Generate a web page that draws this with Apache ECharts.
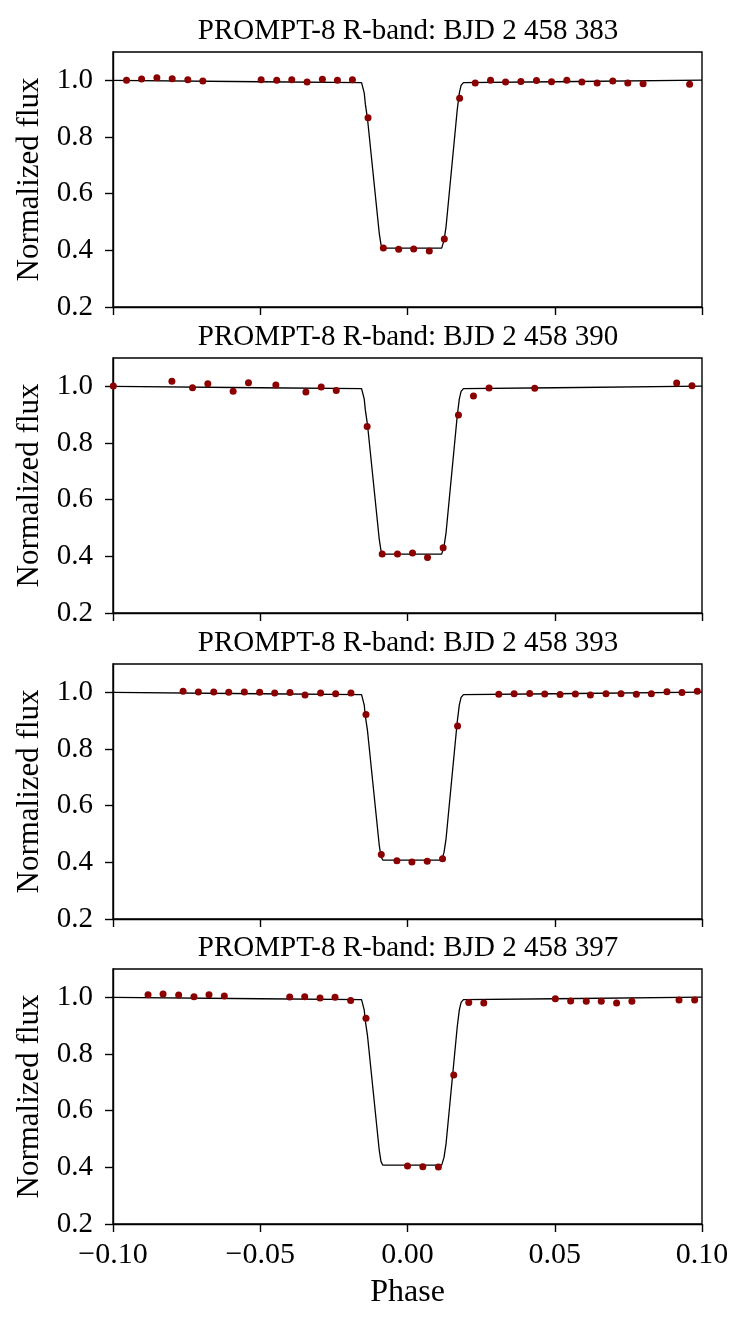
<!DOCTYPE html>
<html>
<head>
<meta charset="utf-8">
<script src="https://cdn.jsdelivr.net/npm/echarts@6/dist/echarts.min.js"></script>
<style>
html,body{margin:0;padding:0;background:#fff;}
#chart{width:747px;height:1326px;}
</style>
</head>
<body>
<div id="chart"></div>
<script>
const titles = [
  'PROMPT-8 R-band: BJD 2 458 383',
  'PROMPT-8 R-band: BJD 2 458 390',
  'PROMPT-8 R-band: BJD 2 458 393',
  'PROMPT-8 R-band: BJD 2 458 397'
];
const xTicks = [-0.1, -0.05, 0, 0.05, 0.1];
const yTicks = [0.2, 0.4, 0.6, 0.8, 1.0];

const phase383 = [-0.0954,-0.0903,-0.0851,-0.0799,-0.0746,-0.0695,-0.0497,-0.0444,-0.0393,-0.0341,-0.0289,-0.0238,-0.0187,-0.0134,-0.0082,-0.0030,0.0021,0.0074,0.0125,0.0177,0.0230,0.0282,0.0333,0.0385,0.0438,0.0489,0.0541,0.0592,0.0644,0.0697,0.0748,0.0800,0.0958];
const flux383  = [1.000,1.005,1.009,1.006,1.002,0.998,1.002,1.000,1.002,0.994,1.004,1.000,1.002,0.868,0.408,0.404,0.405,0.398,0.440,0.937,0.991,1.000,0.994,0.996,0.999,0.995,1.000,0.994,0.991,0.998,0.991,0.988,0.986];

const phase390 = [-0.0999,-0.0800,-0.0730,-0.0678,-0.0592,-0.0540,-0.0447,-0.0345,-0.0293,-0.0242,-0.0137,-0.0086,-0.0034,0.0017,0.0068,0.0121,0.0173,0.0224,0.0277,0.0432,0.0914,0.0966];
const flux390  = [1.001,1.018,0.995,1.009,0.983,1.013,1.005,0.980,0.998,0.985,0.858,0.408,0.408,0.412,0.396,0.430,0.899,0.966,0.994,0.993,1.012,1.002];

const phase393 = [-0.0762,-0.0710,-0.0658,-0.0607,-0.0554,-0.0502,-0.0451,-0.0399,-0.0348,-0.0295,-0.0244,-0.0192,-0.0141,-0.0089,-0.0036,0.0015,0.0067,0.0119,0.0170,0.0310,0.0362,0.0415,0.0466,0.0518,0.0570,0.0621,0.0674,0.0725,0.0777,0.0828,0.0881,0.0932,0.0984];
const flux393  = [1.004,1.001,1.001,1.000,1.001,1.000,0.998,0.999,0.991,0.998,0.995,0.998,0.922,0.428,0.406,0.401,0.404,0.413,0.881,0.993,0.995,0.996,0.994,0.992,0.994,0.991,0.995,0.995,0.993,0.995,1.002,0.999,1.004];

const phase397 = [-0.0881,-0.0830,-0.0777,-0.0725,-0.0674,-0.0622,-0.0400,-0.0349,-0.0297,-0.0246,-0.0193,-0.0141,0.0000,0.0052,0.0105,0.0157,0.0208,0.0259,0.0502,0.0554,0.0607,0.0658,0.0710,0.0762,0.0922,0.0975];
const flux397  = [1.009,1.012,1.008,1.002,1.009,1.005,1.001,1.002,0.998,1.000,0.989,0.926,0.405,0.402,0.401,0.726,0.982,0.980,0.995,0.987,0.986,0.986,0.980,0.986,0.991,0.991];

const modelPhase = [-0.1,-0.05,-0.0156,-0.0150,-0.0147,-0.0143,-0.0136,-0.0096,-0.0090,-0.0084,0.0116,0.0124,0.0131,0.0169,0.0176,0.0182,0.0190,0.05,0.1];
const modelFlux  = [1.000,0.995,0.992,0.986,0.956,0.915,0.866,0.461,0.420,0.408,0.408,0.435,0.484,0.897,0.956,0.982,0.992,0.995,1.001];

const phases = [phase383, phase390, phase393, phase397];
const fluxes = [flux383, flux390, flux393, flux397];

const FONT = 'Liberation Serif';
const tops = [52, 358, 664, 969];
const plotH = 255, plotL = 113, plotW = 589;

const zip = (a, b) => a.map((v, i) => [v, b[i]]);
const fmtX = v => (v < -1e-9 ? '\u2212' : '') + Math.abs(v).toFixed(2);

const option = {
  animation: false,
  backgroundColor: '#fff',
  title: titles.map((t, i) => ({
    text: t, left: 408, top: tops[i] - 35, textAlign: 'center', padding: 0,
    textStyle: {fontFamily: FONT, fontSize: 29, fontWeight: 'normal', color: '#000'}
  })),
  grid: tops.map(t => ({
    left: plotL, top: t, width: plotW, height: plotH,
    show: true, borderColor: '#000', borderWidth: 1.4, backgroundColor: 'transparent'
  })),
  xAxis: tops.map((t, i) => ({
    type: 'value', gridIndex: i, min: -0.1, max: 0.1, interval: 0.05,
    splitLine: {show: false},
    axisLine: {show: true, onZero: false, lineStyle: {color: '#000', width: 1.4}},
    axisTick: {show: true, inside: false, length: 8, lineStyle: {color: '#000', width: 1.4}},
    axisLabel: {show: i === 3, margin: 16, color: '#000', fontFamily: FONT, fontSize: 30, formatter: fmtX},
    name: i === 3 ? 'Phase' : '', nameLocation: 'middle', nameGap: 53,
    nameTextStyle: {fontFamily: FONT, fontSize: 32, color: '#000'}
  })),
  yAxis: tops.map((t, i) => ({
    type: 'value', gridIndex: i, min: 0.2, max: 1.1, interval: 0.2,
    splitLine: {show: false},
    axisLine: {show: true, onZero: false, lineStyle: {color: '#000', width: 1.4}},
    axisTick: {show: true, inside: false, length: 8, customValues: yTicks, lineStyle: {color: '#000', width: 1.4}},
    axisLabel: {show: true, margin: 20, color: '#000', fontFamily: FONT, fontSize: 29,
      customValues: yTicks, formatter: v => v.toFixed(1)},
    name: 'Normalized flux', nameLocation: 'middle', nameGap: 63, nameRotate: 90,
    nameTextStyle: {fontFamily: FONT, fontSize: 31, color: '#000'}
  })),
  series: []
};

phases.forEach((ph, i) => {
  option.series.push({
    type: 'line', xAxisIndex: i, yAxisIndex: i, data: zip(modelPhase, modelFlux),
    showSymbol: false, symbol: 'none', smooth: false, clip: true, z: 2,
    lineStyle: {color: '#000', width: 1.3}
  });
  option.series.push({
    type: 'scatter', xAxisIndex: i, yAxisIndex: i, data: zip(ph, fluxes[i]),
    symbol: 'circle', symbolSize: 7, clip: true, z: 3,
    itemStyle: {color: '#8b0000', opacity: 1}
  });
});

const chart = echarts.init(document.getElementById('chart'), null, {renderer: 'canvas'});
chart.setOption(option);
</script>
</body>
</html>
